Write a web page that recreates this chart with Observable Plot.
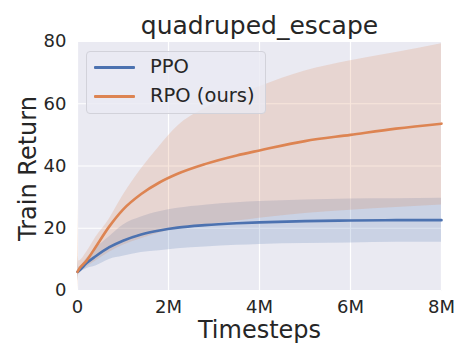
<!DOCTYPE html>
<html>
<head>
<meta charset="utf-8">
<script src="https://cdn.jsdelivr.net/npm/d3@7"></script>
<script src="https://cdn.jsdelivr.net/npm/@observablehq/plot@0.6"></script>
<style>
  html, body { margin: 0; padding: 0; background: #ffffff; }
  #wrap { position: relative; width: 470px; height: 360px; font-family: "DejaVu Sans", sans-serif; }
  #legend {
    position: absolute; left: 86px; top: 51px; width: 178px; height: 61px;
    background: rgba(234,234,242,0.8); border: 1px solid #d2d2da; border-radius: 4px;
    color: #262626; font-size: 19.5px;
  }
  .sw { position: absolute; left: 7px; width: 41px; height: 3px; border-radius: 1px; }
  .lbl { position: absolute; left: 63px; white-space: nowrap; line-height: 20px; }
</style>
</head>
<body>
<div id="wrap">
  <div id="chart"></div>
  <div id="legend"></div>
</div>
<script>
// Timesteps in millions
const steps = [0, 0.03, 0.2, 0.4, 0.7, 1.0, 1.4, 1.8, 2.2, 2.8, 3.5, 4.0, 5.0, 6.0, 7.0, 8.0];
const ppoMean = [6, 6.3, 8.8, 11.0, 13.9, 16.0, 18.0, 19.3, 20.2, 21.0, 21.6, 21.9, 22.3, 22.5, 22.6, 22.6];
const ppoLo   = [3, 5.3, 7.0, 7.9, 10.0, 11.0, 12.2, 12.8, 13.4, 14.0, 14.5, 14.8, 15.1, 15.3, 15.5, 15.5];
const ppoHi   = [11, 7.5, 10.3, 13.5, 17.3, 21.0, 23.6, 25.3, 26.4, 27.4, 28.2, 28.6, 29.1, 29.4, 29.5, 29.6];
const rpoMean = [6, 6.8, 9.6, 14.0, 20.6, 26.0, 31.0, 34.7, 37.5, 40.6, 43.4, 45.0, 48.0, 50.0, 52.0, 53.6];
const rpoLo   = [0, 5.3, 7.5, 9.5, 12.3, 14.5, 16.6, 18.5, 19.8, 21.0, 22.3, 23.2, 24.7, 25.8, 26.7, 27.5];
const rpoHi   = [28, 9.5, 12.3, 17.0, 23.0, 30.5, 39.0, 46.3, 52.8, 58.5, 62.8, 65.5, 70.5, 73.8, 76.5, 79.3];
const seriesNames = ["PPO", "RPO (ours)"];
const seriesColors = ["#4C72B0", "#DD8452"];
const xTicks = [0, 2, 4, 6, 8];
const yTicks = [0, 20, 40, 60, 80];
const titleText = "quadruped_escape";
const xLabel = "Timesteps";
const yLabel = "Train Return";

const rows = [];
const series = [[ppoMean, ppoLo, ppoHi], [rpoMean, rpoLo, rpoHi]];
series.forEach(([m, lo, hi], k) => {
  steps.forEach((s, i) => rows.push({name: seriesNames[k], x: s, y: m[i], lo: lo[i], hi: hi[i]}));
});

const ink = "#262626";
const chart = Plot.plot({
  width: 470,
  height: 360,
  marginLeft: 77,
  marginRight: 29,
  marginTop: 41,
  marginBottom: 70,
  style: {fontFamily: "DejaVu Sans, sans-serif", color: ink, background: "transparent"},
  x: {domain: [0, 8]},
  y: {domain: [0, 80]},
  color: {domain: seriesNames, range: seriesColors},
  marks: [
    Plot.frame({fill: "#EAEAF2", stroke: null}),
    Plot.gridX(xTicks, {stroke: "white", strokeOpacity: 1, strokeWidth: 1.2}),
    Plot.gridY(yTicks, {stroke: "white", strokeOpacity: 1, strokeWidth: 1.2}),
    Plot.areaY(rows, {x: "x", y1: "lo", y2: "hi", z: "name", fill: "name", fillOpacity: 0.2, curve: "monotone-x"}),
    Plot.lineY(rows, {x: "x", y: "y", z: "name", stroke: "name", strokeWidth: 2.6, curve: "monotone-x"}),
    Plot.axisX(xTicks, {tickSize: 0, tickPadding: 10, fontSize: 18, label: null,
      tickFormat: d => d === 0 ? "0" : d + "M"}),
    Plot.axisY(yTicks, {tickSize: 0, tickPadding: 11, fontSize: 18, label: null}),
    Plot.text([xLabel], {frameAnchor: "bottom", dy: 47, lineAnchor: "bottom", textAnchor: "middle", fontSize: 24, fill: ink}),
    Plot.text([yLabel], {frameAnchor: "left", rotate: -90, dx: -42, dy: 2.5, lineAnchor: "bottom", textAnchor: "middle", fontSize: 24, fill: ink}),
    Plot.text([titleText], {frameAnchor: "top", dy: -8, lineAnchor: "bottom", textAnchor: "middle", fontSize: 25, fill: ink})
  ]
});
document.getElementById("chart").appendChild(chart);

const legend = document.getElementById("legend");
const tops = [5, 34];
seriesNames.forEach((n, i) => {
  const sw = document.createElement("div");
  sw.className = "sw";
  sw.style.top = (tops[i] + 9) + "px";
  sw.style.background = seriesColors[i];
  legend.appendChild(sw);
  const lb = document.createElement("div");
  lb.className = "lbl";
  lb.style.top = tops[i] + "px";
  lb.textContent = n;
  legend.appendChild(lb);
});
</script>
</body>
</html>
